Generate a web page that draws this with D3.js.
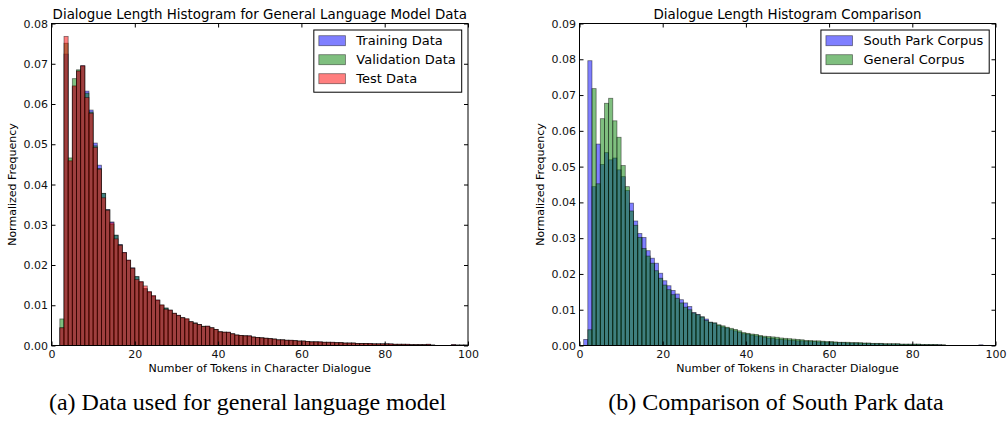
<!DOCTYPE html>
<html>
<head>
<meta charset="utf-8">
<script src="https://cdn.jsdelivr.net/npm/d3@7"></script>
<style>
  body { margin: 0; background: #fff; }
  svg text { font-family: "DejaVu Sans", sans-serif; }
  svg text.caption { font-family: "Liberation Serif", "Times New Roman", serif; }
</style>
</head>
<body>
<div id="chart"></div>
<script>
// histogram bins: [k, k+1)
var binStarts = [1, 2, 3, 4, 5, 6, 7, 8, 9, 10,
  11, 12, 13, 14, 15, 16, 17, 18, 19, 20,
  21, 22, 23, 24, 25, 26, 27, 28, 29, 30,
  31, 32, 33, 34, 35, 36, 37, 38, 39, 40,
  41, 42, 43, 44, 45, 46, 47, 48, 49, 50,
  51, 52, 53, 54, 55, 56, 57, 58, 59, 60,
  61, 62, 63, 64, 65, 66, 67, 68, 69, 70,
  71, 72, 73, 74, 75, 76, 77, 78, 79, 80,
  81, 82, 83, 84, 85, 86, 87, 88, 89, 90,
  91, 92, 93, 94, 95, 96, 97, 98, 99]

// (a) general language model data
var trainingData = [0, 0.0044, 0.0724, 0.0457, 0.0643, 0.0682, 0.0695, 0.0632, 0.0585, 0.0503,
  0.0448, 0.0378, 0.0338, 0.0307, 0.0274, 0.0251, 0.0231, 0.0212, 0.0193, 0.0171,
  0.0158, 0.0141, 0.0133, 0.0123, 0.0113, 0.0100, 0.0093, 0.0088, 0.0080, 0.0075,
  0.0069, 0.0065, 0.0059, 0.0056, 0.0052, 0.0047, 0.0048, 0.0044, 0.0040, 0.0034,
  0.0033, 0.0033, 0.0029, 0.0026, 0.0025, 0.0024, 0.0024, 0.0021, 0.0020, 0.0019,
  0.0018, 0.0017, 0.0016, 0.0014, 0.0014, 0.0013, 0.0013, 0.0012, 0.0011, 0.0011,
  0.0010, 0.0009, 0.0009, 0.0009, 0.0008, 0.0008, 0.0008, 0.0007, 0.0007, 0.0006,
  0.0006, 0.0006, 0.0005, 0.0005, 0.0005, 0.0005, 0.0004, 0.0004, 0.0004, 0.0004,
  0.0004, 0.0003, 0.0003, 0.0003, 0.0003, 0.0002, 0.0002, 0.0002, 0.0002, 0.0003,
  0.0001, 0, 0, 0, 0, 0.0002, 0.0001, 0.0001, 0.0001]

var validationData = [0, 0.0066, 0.0751, 0.0466, 0.0663, 0.0685, 0.0694, 0.0627, 0.0580, 0.0496,
  0.0440, 0.0378, 0.0337, 0.0301, 0.0274, 0.0250, 0.0230, 0.0211, 0.0192, 0.0171,
  0.0157, 0.0141, 0.0132, 0.0122, 0.0112, 0.0100, 0.0093, 0.0087, 0.0080, 0.0074,
  0.0069, 0.0065, 0.0059, 0.0056, 0.0052, 0.0048, 0.0047, 0.0044, 0.0040, 0.0034,
  0.0033, 0.0032, 0.0029, 0.0026, 0.0025, 0.0024, 0.0023, 0.0021, 0.0020, 0.0019,
  0.0018, 0.0017, 0.0016, 0.0014, 0.0014, 0.0013, 0.0012, 0.0012, 0.0011, 0.0011,
  0.0010, 0.0009, 0.0009, 0.0008, 0.0008, 0.0008, 0.0007, 0.0007, 0.0007, 0.0006,
  0.0006, 0.0006, 0.0005, 0.0005, 0.0005, 0.0004, 0.0004, 0.0004, 0.0004, 0.0004,
  0.0003, 0.0003, 0.0003, 0.0003, 0.0002, 0.0002, 0.0002, 0.0002, 0.0002, 0.0002,
  0.0001, 0, 0, 0, 0, 0.0001, 0.0001, 0.0001, 0.0001]

var testData = [0, 0.0044, 0.0768, 0.0459, 0.0645, 0.0682, 0.0695, 0.0616, 0.0577, 0.0492,
  0.0438, 0.0367, 0.0336, 0.0305, 0.0265, 0.0249, 0.0231, 0.0212, 0.0192, 0.0164,
  0.0159, 0.0148, 0.0134, 0.0124, 0.0113, 0.0101, 0.0090, 0.0088, 0.0080, 0.0075,
  0.0069, 0.0067, 0.0059, 0.0055, 0.0052, 0.0047, 0.0048, 0.0044, 0.0040, 0.0034,
  0.0033, 0.0033, 0.0029, 0.0026, 0.0025, 0.0024, 0.0024, 0.0021, 0.0020, 0.0019,
  0.0018, 0.0017, 0.0016, 0.0014, 0.0014, 0.0013, 0.0013, 0.0012, 0.0011, 0.0011,
  0.0010, 0.0009, 0.0009, 0.0009, 0.0008, 0.0008, 0.0008, 0.0007, 0.0007, 0.0006,
  0.0006, 0.0006, 0.0005, 0.0005, 0.0005, 0.0005, 0.0004, 0.0004, 0.0004, 0.0004,
  0.0004, 0.0003, 0.0003, 0.0003, 0.0003, 0.0002, 0.0002, 0.0002, 0.0002, 0.0003,
  0.0001, 0, 0, 0, 0, 0.0002, 0.0001, 0.0001, 0.0001]

// (b) comparison
var southParkCorpus = [0.0017, 0.0796, 0.0444, 0.0563, 0.0506, 0.0539, 0.0519, 0.0524, 0.0491, 0.0472,
  0.0433, 0.0398, 0.0348, 0.0313, 0.0302, 0.0265, 0.0244, 0.0230, 0.0202, 0.0181,
  0.0167, 0.0154, 0.0144, 0.0128, 0.0119, 0.0109, 0.0092, 0.0087, 0.0080, 0.0074,
  0.0065, 0.0063, 0.0056, 0.0052, 0.0049, 0.0044, 0.0041, 0.0037, 0.0033, 0.0032,
  0.0029, 0.0027, 0.0025, 0.0023, 0.0021, 0.0020, 0.0018, 0.0017, 0.0016, 0.0015,
  0.0014, 0.0013, 0.0013, 0.0012, 0.0011, 0.0011, 0.0010, 0.0010, 0.0009, 0.0009,
  0.0008, 0.0008, 0.0008, 0.0007, 0.0007, 0.0007, 0.0006, 0.0006, 0.0006, 0.0005,
  0.0005, 0.0005, 0.0004, 0.0004, 0.0004, 0.0004, 0.0003, 0.0003, 0.0003, 0.0003,
  0.0003, 0.0002, 0.0002, 0.0002, 0.0002, 0.0002, 0.0001, 0, 0, 0,
  0, 0, 0, 0, 0, 0.0002, 0, 0, 0]

var generalCorpus = [0, 0.0044, 0.0718, 0.0452, 0.0634, 0.0677, 0.0691, 0.0628, 0.0582, 0.0503,
  0.0444, 0.0376, 0.0336, 0.0302, 0.0271, 0.0250, 0.0230, 0.0209, 0.0188, 0.0169,
  0.0156, 0.0142, 0.0132, 0.0119, 0.0107, 0.0100, 0.0091, 0.0086, 0.0080, 0.0070,
  0.0065, 0.0063, 0.0058, 0.0055, 0.0051, 0.0048, 0.0045, 0.0041, 0.0036, 0.0034,
  0.0032, 0.0031, 0.0028, 0.0026, 0.0025, 0.0024, 0.0023, 0.0021, 0.0020, 0.0019,
  0.0018, 0.0017, 0.0016, 0.0014, 0.0014, 0.0013, 0.0013, 0.0012, 0.0011, 0.0011,
  0.0010, 0.0009, 0.0009, 0.0009, 0.0008, 0.0008, 0.0008, 0.0007, 0.0007, 0.0006,
  0.0006, 0.0006, 0.0005, 0.0005, 0.0005, 0.0005, 0.0004, 0.0004, 0.0004, 0.0004,
  0.0004, 0.0003, 0.0003, 0.0003, 0.0003, 0.0002, 0.0002, 0, 0, 0,
  0, 0, 0, 0, 0, 0, 0, 0, 0]

var xTicks = [0, 20, 40, 60, 80, 100]
var yTicksA = [0, 0.01, 0.02, 0.03, 0.04, 0.05, 0.06, 0.07, 0.08]
var yTicksB = [0, 0.01, 0.02, 0.03, 0.04, 0.05, 0.06, 0.07, 0.08, 0.09]

var svg = d3.select("#chart")
    .append("svg")
    .attr("width", 1007)
    .attr("height", 425)

function drawPanel(p) {
  var g = svg.append("g")
      .attr("transform", "translate(" + p.left + "," + p.top + ")")

  var x = d3.scaleLinear().domain([0, 100]).range([0, p.width])
  var y = d3.scaleLinear().domain([0, p.yTicks[p.yTicks.length - 1]]).range([p.height, 0])

  // bars, one series after the other like matplotlib
  p.series.forEach(function(s) {
    var bins = binStarts.map(function(b, i) { return {x0: b, v: s.values[i]} })
                        .filter(function(d) { return d.v > 0 })
    g.append("g").selectAll("rect")
      .data(bins)
      .enter()
      .append("rect")
      .attr("x", function(d) { return x(d.x0) })
      .attr("y", function(d) { return y(d.v) })
      .attr("width", function(d) { return x(d.x0 + 1) - x(d.x0) })
      .attr("height", function(d) { return y(0) - y(d.v) })
      .style("fill", s.color)
      .style("fill-opacity", 0.5)
      .style("stroke", "black")
      .style("stroke-opacity", 0.5)
      .style("stroke-width", 0.8)
  })

  // axes, ticks inside on all four sides
  var ax = [
    g.append("g").attr("transform", "translate(0," + p.height + ")")
      .call(d3.axisBottom(x).tickValues(xTicks).tickSize(-4).tickPadding(5).tickFormat(d3.format("d"))),
    g.append("g")
      .call(d3.axisTop(x).tickValues(xTicks).tickSize(-4).tickFormat("")),
    g.append("g")
      .call(d3.axisLeft(y).tickValues(p.yTicks).tickSize(-4).tickPadding(3.5).tickFormat(d3.format(".2f"))),
    g.append("g").attr("transform", "translate(" + p.width + ",0)")
      .call(d3.axisRight(y).tickValues(p.yTicks).tickSize(-4).tickFormat(""))
  ]
  ax.forEach(function(a) {
    a.select(".domain").remove()
    a.attr("font-family", null).attr("font-size", 11)
    a.selectAll("line").attr("stroke", "black")
    a.selectAll("text").attr("fill", "#111")
  })

  g.append("rect")
    .attr("width", p.width)
    .attr("height", p.height)
    .style("fill", "none")
    .style("stroke", "black")
    .style("stroke-width", 1)

  g.append("text")
    .attr("x", p.width / 2)
    .attr("y", -4.5)
    .attr("text-anchor", "middle")
    .style("font-size", "13.4px")
    .text(p.title)

  g.append("text")
    .attr("x", p.width / 2)
    .attr("y", p.height + 26.5)
    .attr("text-anchor", "middle")
    .style("font-size", "11px")
    .text("Number of Tokens in Character Dialogue")

  g.append("text")
    .attr("transform", "translate(-36," + (p.height / 2) + ") rotate(-90)")
    .attr("text-anchor", "middle")
    .style("font-size", "11px")
    .text("Normalized Frequency")

  // legend in the upper right
  var leg = g.append("g")
  var box = leg.append("rect")
    .style("fill", "white")
    .style("stroke", "black")
    .style("stroke-width", 1)
  var maxLen = 0
  p.series.forEach(function(s, i) {
    var cy = 10.7 + i * 19
    leg.append("rect")
      .attr("x", 5).attr("y", cy - 5)
      .attr("width", 26.6).attr("height", 10)
      .style("fill", s.color).style("fill-opacity", 0.5)
      .style("stroke", "black").style("stroke-opacity", 0.5).style("stroke-width", 0.8)
    var t = leg.append("text")
      .attr("x", 42.5).attr("y", cy)
      .attr("dy", "0.36em")
      .style("font-size", "13px")
      .text(s.name)
    maxLen = Math.max(maxLen, t.node().getComputedTextLength())
  })
  var bw = 42.5 + maxLen + 6
  var bh = 10.7 + (p.series.length - 1) * 19 + 13.5
  box.attr("width", bw).attr("height", bh)
  leg.attr("transform", "translate(" + (p.width - 6.3 - bw) + ",6.5)")

  svg.append("text")
    .attr("class", "caption")
    .attr("x", p.captionX)
    .attr("y", 410)
    .attr("text-anchor", "middle")
    .style("font-size", "24px")
    .text(p.caption)
}

drawPanel({
  left: 51.5, top: 23.5, width: 416.5, height: 322,
  yTicks: yTicksA,
  title: "Dialogue Length Histogram for General Language Model Data",
  series: [
    {name: "Training Data", values: trainingData, color: "#0000ff"},
    {name: "Validation Data", values: validationData, color: "#008000"},
    {name: "Test Data", values: testData, color: "#ff0000"}
  ],
  caption: "(a) Data used for general language model",
  captionX: 247.5
})

drawPanel({
  left: 579.5, top: 23.5, width: 416, height: 322,
  yTicks: yTicksB,
  title: "Dialogue Length Histogram Comparison",
  series: [
    {name: "South Park Corpus", values: southParkCorpus, color: "#0000ff"},
    {name: "General Corpus", values: generalCorpus, color: "#008000"}
  ],
  caption: "(b) Comparison of South Park data",
  captionX: 776
})
</script>
</body>
</html>
